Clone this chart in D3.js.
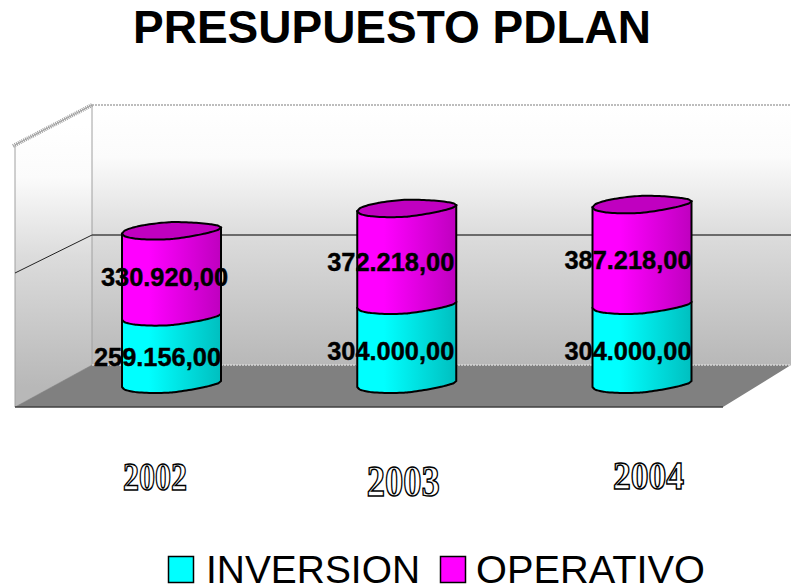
<!DOCTYPE html>
<html>
<head>
<meta charset="utf-8">
<script src="https://d3js.org/d3.v7.min.js"></script>
<style>
  html, body { margin: 0; padding: 0; background: #fff; }
  svg { display: block; }
  text { font-family: "Liberation Sans", Arial, sans-serif; }
</style>
</head>
<body>
<svg id="chart"></svg>
<script>
// ======================
// DATA
// ======================
const years = ["2002", "2003", "2004"];
const inversion = [259156, 304000, 304000];
const operativo = [330920, 372218, 387218];
const seriesNames = ["INVERSION", "OPERATIVO"];
const axisTicks = [0, 500000, 1000000];

// ======================
// SETUP
// ======================
const width = 791;
const height = 586;
const svg = d3.select("#chart").attr("width", width).attr("height", height);
const defs = svg.append("defs");

const fmt = v => d3.format(",.2f")(v).replace(/,/g, "#").replace(".", ",").replace(/#/g, ".");

// back wall and front edge of the box use their own value scales
const yBack = d3.scaleLinear().domain([0, 1000000]).range([365, 105]);
const yFront = d3.scaleLinear().domain([0, 1000000]).range([407, 145]);
const yBar = d3.scaleLinear().domain([0, 1000000]).range([387, 127]);
const xBar = d3.scalePoint().domain(years).range([171.5, 642]);

const backX = 92, frontX = 15, floorRight = 723;
const barHalf = 49.5, slant = 6, ry = 8.5;

// ======================
// GRADIENTS
// ======================
function vGrad(id, y1, y2) {
    const g = defs.append("linearGradient").attr("id", id)
        .attr("gradientUnits", "userSpaceOnUse")
        .attr("x1", 0).attr("x2", 0).attr("y1", y1).attr("y2", y2);
    g.append("stop").attr("offset", 0).attr("stop-color", "#ffffff");
    g.append("stop").attr("offset", 0.2).attr("stop-color", "#fbfbfb");
    g.append("stop").attr("offset", 0.5).attr("stop-color", "#dcdcdc");
    g.append("stop").attr("offset", 1).attr("stop-color", "#b8b8b8");
}
vGrad("wallBack", yBack(1000000), yBack(0));
vGrad("wallLeft", yFront(1000000) - 20, yFront(0) - 20);

function hGrad(id, bright, dark) {
    const g = defs.append("linearGradient").attr("id", id);
    g.append("stop").attr("offset", 0).attr("stop-color", bright);
    g.append("stop").attr("offset", 0.27).attr("stop-color", bright);
    g.append("stop").attr("offset", 1).attr("stop-color", dark);
}
hGrad("cyanSide", "#00ffff", "#00bfbf");
hGrad("magentaSide", "#ff00ff", "#bf00bf");

// ======================
// BOX
// ======================
const box = svg.append("g");

box.append("rect")
    .attr("x", backX).attr("y", yBack(1000000))
    .attr("width", width - backX).attr("height", yBack(0) - yBack(1000000))
    .attr("fill", "url(#wallBack)");

box.append("path")
    .attr("d", d3.line()([[frontX, yFront(1000000)], [backX, yBack(1000000)], [backX, yBack(0)], [frontX, yFront(0)]]) + "Z")
    .attr("fill", "url(#wallLeft)")
    .attr("stroke", "#a0a0a0");

box.append("path")
    .attr("d", d3.line()([[frontX, yFront(0)], [floorRight, yFront(0)], [width, yBack(0)], [backX, yBack(0)]]) + "Z")
    .attr("fill", "#808080");

box.append("line")
    .attr("x1", frontX).attr("x2", floorRight)
    .attr("y1", yFront(0)).attr("y2", yFront(0))
    .attr("stroke", "#404040").attr("stroke-width", 1.5);

// top edges are the hatched grey of the old renderer
box.append("line")
    .attr("x1", backX).attr("x2", width)
    .attr("y1", yBack(1000000)).attr("y2", yBack(1000000))
    .attr("stroke", "#a8a8a8").attr("stroke-width", 1.5).attr("stroke-dasharray", "2 1");
box.append("line")
    .attr("x1", frontX - 2).attr("x2", backX)
    .attr("y1", yFront(1000000) + 1).attr("y2", yBack(1000000))
    .attr("stroke", "#a0a0a0").attr("stroke-width", 4).attr("stroke-dasharray", "1 1");
box.append("line")
    .attr("x1", backX).attr("x2", width)
    .attr("y1", yBack(0)).attr("y2", yBack(0))
    .attr("stroke", "#d8d8d8").attr("stroke-width", 1.5).attr("stroke-dasharray", "2 1");

// gridlines
axisTicks.filter(t => t > 0 && t < 1000000).forEach(t => {
    box.append("line")
        .attr("x1", backX).attr("x2", width)
        .attr("y1", yBack(t)).attr("y2", yBack(t))
        .attr("stroke", "#444").attr("stroke-width", 1.4);
    box.append("line")
        .attr("x1", frontX).attr("x2", backX)
        .attr("y1", yFront(t) - 3).attr("y2", yBack(t))
        .attr("stroke", "#222");
});

// ======================
// CYLINDERS
// ======================
// squeezes the ellipse a bit on its right half, as in the lumpy original
const squeeze = t => 1 - 0.3 * Math.max(0, t);
const ts = d3.range(-1, 1.0001, 0.05);

function edge(cx, yLeft, side) {
    return ts.map(t => [
        cx + t * barHalf,
        yLeft - slant * (t + 1) / 2 + side * ry * squeeze(t) * Math.sqrt(Math.max(0, 1 - t * t))
    ]);
}
const curve = d3.line().curve(d3.curveCatmullRom);

function segmentPath(cx, yTop, yBottom) {
    const pts = edge(cx, yBottom, 1);
    return curve(pts) + `L${cx + barHalf},${yTop - slant}L${cx - barHalf},${yTop}Z`;
}

const barsG = svg.append("g").attr("stroke", "#000").attr("stroke-width", 2);

years.forEach((year, i) => {
    const cx = xBar(year);
    const y0 = yBar(0);
    const y1 = yBar(inversion[i]);
    const y2 = yBar(inversion[i] + operativo[i]);

    barsG.append("path").attr("d", segmentPath(cx, y1, y0)).attr("fill", "url(#cyanSide)");
    barsG.append("path").attr("d", segmentPath(cx, y2, y1)).attr("fill", "url(#magentaSide)");

    const topArc = edge(cx, y2, -1);
    const lowArc = edge(cx, y2, 1).reverse();
    barsG.append("path")
        .attr("d", curve(topArc) + curve(lowArc).replace("M", "L") + "Z")
        .attr("fill", "#c000c0");
});

// ======================
// VALUE LABELS
// ======================
// right end of each label against the bar's right side, and the baseline shift
const labelNudge = [[0, 7], [-2, -2], [0, 0]];
const labelDrop = [[13, 11], [13, 13], [13, 13]];
const labelsG = svg.append("g")
    .attr("text-anchor", "end")
    .attr("font-size", 25.4)
    .attr("font-weight", "bold")
    .attr("fill", "#000")
    .attr("stroke", "#000")
    .attr("stroke-width", 0.4);

years.forEach((year, i) => {
    const right = xBar(year) + barHalf;
    const y0 = yBar(0);
    const y1 = yBar(inversion[i]);
    const y2 = yBar(inversion[i] + operativo[i]);
    labelsG.append("text")
        .attr("x", right + labelNudge[i][0])
        .attr("y", (y0 + y1) / 2 + labelDrop[i][0])
        .text(fmt(inversion[i]));
    labelsG.append("text")
        .attr("x", right + labelNudge[i][1])
        .attr("y", (y1 + y2) / 2 + labelDrop[i][1] - 2)
        .text(fmt(operativo[i]));
});

// ======================
// YEAR LABELS
// ======================
const yearLayout = [
    { dx: -16.5, y: 490, size: 41, len: 64 },
    { dx: -3.5, y: 496, size: 44, len: 73 },
    { dx: 6.5, y: 489, size: 40, len: 71 }
];
svg.append("g")
    .selectAll("text")
    .data(years)
    .enter()
    .append("text")
    .attr("x", (d, i) => xBar(d) + yearLayout[i].dx)
    .attr("y", (d, i) => yearLayout[i].y)
    .attr("font-size", (d, i) => yearLayout[i].size)
    .attr("textLength", (d, i) => yearLayout[i].len)
    .attr("lengthAdjust", "spacingAndGlyphs")
    .attr("text-anchor", "middle")
    .style("font-family", '"Liberation Serif", "Times New Roman", serif')
    .attr("font-weight", "bold")
    .attr("fill", "#fff")
    .attr("stroke", "#000")
    .attr("stroke-width", 1.5)
    .text(d => d);

// ======================
// TITLE + LEGEND
// ======================
svg.append("text")
    .attr("x", 392).attr("y", 43)
    .attr("text-anchor", "middle")
    .attr("font-size", 46)
    .attr("font-weight", "bold")
    .attr("fill", "#000")
    .text("PRESUPUESTO PDLAN");

const legendColors = ["#00ffff", "#ff00ff"];
const legendX = [168, 440];
const legendLen = [214, 229];
const legend = svg.append("g")
    .selectAll("g")
    .data(seriesNames)
    .enter()
    .append("g")
    .attr("transform", (d, i) => `translate(${legendX[i]},556)`);

legend.append("rect")
    .attr("x", 0.5).attr("y", 0.5)
    .attr("width", 25).attr("height", 26)
    .attr("fill", (d, i) => legendColors[i])
    .attr("stroke", "#000").attr("stroke-width", 1.5);

legend.append("text")
    .attr("x", (d, i) => i === 0 ? 38 : 36)
    .attr("y", 27)
    .attr("font-size", 38)
    .attr("textLength", (d, i) => legendLen[i])
    .attr("lengthAdjust", "spacingAndGlyphs")
    .attr("fill", "#000")
    .text(d => d);
</script>
</body>
</html>
